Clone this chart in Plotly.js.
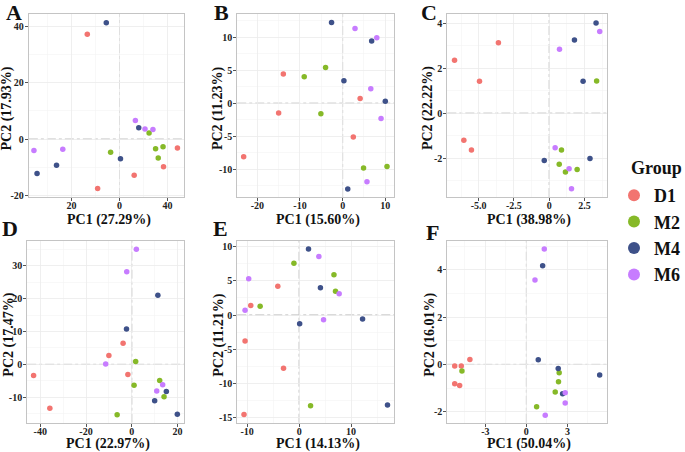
<!DOCTYPE html>
<html><head><meta charset="utf-8">
<script src="https://cdn.plot.ly/plotly-3.0.1.min.js"></script>
<style>html,body{margin:0;padding:0;background:#fff}#chart{width:685px;height:452px}</style>
</head><body><div id="chart"></div>
<script>
// ---- data ----
const groups = ["D1", "M2", "M4", "M6"];
const groupColors = ["#F27470", "#86B928", "#3E5189", "#C77CFF"];
const sampleGroup = ["D1","D1","D1","D1","D1","M2","M2","M2","M2","M2","M4","M4","M4","M4","M4","M6","M6","M6","M6","M6"];

const A_pc1 = [-13.4, 24.1, 18.3, 6.1, -9.1,   12.3, -3.7, 15.0, 18.1, 16.1,   -5.5, 8.0, 0.4, -26.2, -34.3,   6.6, 10.6, 13.9, -35.6, -23.6];
const A_pc2 = [37.3, -3.2, -9.8, -12.9, -17.6,  2.2, -4.7, -3.4, -2.7, -6.7,   41.4, 4.0, -7.0, -9.3, -12.2,   6.6, 3.6, 3.4, -4.1, -3.6];
const B_pc1 = [-13.9, 4.1, -15.0, 2.5, -23.2,  -9.0, -4.0, -5.1, 4.9, 10.4,   -2.6, 6.8, 0.3, 10.0, 1.2,   2.9, 8.0, 6.6, 9.0, 5.7];
const B_pc2 = [4.4, 0.7, -1.5, -5.1, -8.1,   4.0, 5.4, -1.6, -9.8, -9.6,   12.2, 9.4, 3.4, 0.3, -13.0,   11.3, 9.9, 2.2, -2.3, -11.9];
const C_pc1 = [-3.6, -6.71, -4.94, -6.05, -5.51,   3.36, 0.87, 0.71, 1.98, 1.15,   3.32, 1.79, 2.4, -0.35, 2.89,   3.58, 0.73, 0.42, 1.41, 1.58];
const C_pc2 = [3.12, 2.35, 1.42, -1.2, -1.64,   1.43, -1.64, -2.27, -2.5, -2.61,   4.0, 3.25, 1.42, -2.1, -2.01,   3.62, 2.84, -1.54, -2.47, -3.35];
const D_pc1 = [-3.8, -10.0, -42.9, -1.7, -35.8,   1.7, 1.0, 12.2, 14.1, -6.4,   11.4, -2.3, 15.1, 10.0, 19.9,   2.0, -2.2, -11.4, 13.5, 10.9];
const D_pc2 = [6.4, 2.7, -3.4, -3.1, -13.4,   0.9, -6.4, -4.9, -9.9, -15.4,   21.1, 10.8, -8.3, -11.1, -15.2,   35.1, 28.2, 0.1, -6.2, -8.1];
const E_pc1 = [-4.1, -9.3, -10.4, -3.0, -10.6,   -1.0, 6.7, 7.0, -7.5, 2.2,   1.8, 4.1, 12.2, 0.1, 17.0,   3.8, -9.7, 7.7, -10.4, 4.7];
const E_pc2 = [4.2, 1.4, -3.8, -7.8, -14.6,   7.6, 5.9, 3.5, 1.3, -13.3,   9.7, 4.0, -0.6, -1.3, -13.2,   8.6, 5.3, 3.1, 0.7, -0.7];
const F_pc1 = [-4.13, -5.24, -4.76, -5.24, -4.88,   -4.71, 2.40, 2.35, 2.11, 0.75,   1.19, 0.87, 2.33, 5.36, 2.65,   1.31, 0.63, 2.84, 2.84, 1.38];
const F_pc2 = [0.21, -0.07, -0.07, -0.82, -0.89,   -0.28, -0.35, -0.73, -1.17, -1.79,   4.18, 0.20, -0.17, -0.45, -1.24,   4.89, 3.57, -1.20, -1.64, -2.15];

const A_xTickVals = [-20, 0, 20];       const A_xTickText = ["20", "0", "40"];
const A_yTickVals = [-20, 0, 20, 40];   const A_yTickText = ["-20", "0", "20", "40"];
const B_xTickVals = [-20, -10, 0, 10];  const B_xTickText = ["-20", "-10", "0", "10"];
const B_yTickVals = [-10, -5, 0, 5, 10]; const B_yTickText = ["-10", "-5", "0", "5", "10"];
const C_xTickVals = [-5, -2.5, 0, 2.5]; const C_xTickText = ["-5.0", "-2.5", "0", "2.5"];
const C_yTickVals = [-2, 0, 2, 4];      const C_yTickText = ["-2", "0", "2", "4"];
const D_xTickVals = [-40, -20, 0, 20];  const D_xTickText = ["-40", "-20", "0", "20"];
const D_yTickVals = [-10, 0, 10, 20, 30]; const D_yTickText = ["-10", "0", "10", "20", "30"];
const E_xTickVals = [-10, 0, 10];       const E_xTickText = ["-10", "0", "10"];
const E_yTickVals = [-15, -10, -5, 0, 5, 10]; const E_yTickText = ["-15", "-10", "-5", "0", "5", "10"];
const F_xTickVals = [-3, 0, 3];         const F_xTickText = ["-3", "0", "3"];
const F_yTickVals = [-2, 0, 2, 4];      const F_yTickText = ["-2", "0", "2", "4"];

const xTitles = ["PC1 (27.29%)", "PC1 (15.60%)", "PC1 (38.98%)", "PC1 (22.97%)", "PC1 (14.13%)", "PC1 (50.04%)"];
const yTitles = ["PC2 (17.93%)", "PC2 (11.23%)", "PC2 (22.22%)", "PC2 (17.47%)", "PC2 (11.21%)", "PC2 (16.01%)"];
const panelLetters = ["A", "B", "C", "D", "E", "F"];

// ---- layout config (pixel boxes: left, right, top, bottom) ----
const W = 685, H = 452;
const panels = [
  {pc1: A_pc1, pc2: A_pc2, xv: A_xTickVals, xt: A_xTickText, yv: A_yTickVals, yt: A_yTickText, xr: [-37.7, 26.9], yr: [-20.6, 44.5], box: [29, 185, 14, 197], lab: [14, 13], xtY: 219.5, ytX: 8},
  {pc1: B_pc1, pc2: B_pc2, xv: B_xTickVals, xt: B_xTickText, yv: B_yTickVals, yt: B_yTickText, xr: [-24.7, 12.1], yr: [-14.2, 13.5], box: [238.3, 396, 14, 197], lab: [222, 13], xtY: 219.5, ytX: 219.5},
  {pc1: C_pc1, pc2: C_pc2, xv: C_xTickVals, xt: C_xTickText, yv: C_yTickVals, yt: C_yTickText, xr: [-7.22, 4.07], yr: [-3.72, 4.40], box: [449.3, 609.3, 14, 197], lab: [431, 13], xtY: 219.5, ytX: 430.5},
  {pc1: D_pc1, pc2: D_pc2, xv: D_xTickVals, xt: D_xTickText, yv: D_yTickVals, yt: D_yTickText, xr: [-45.7, 22.9], yr: [-17.8, 37.7], box: [27.3, 185, 240.7, 422.7], lab: [10, 229], xtY: 443.5, ytX: 9},
  {pc1: E_pc1, pc2: E_pc2, xv: E_xTickVals, xt: E_xTickText, yv: E_yTickVals, yt: E_yTickText, xr: [-11.9, 18.3], yr: [-15.8, 10.9], box: [238.3, 396, 240.7, 422.7], lab: [221, 229], xtY: 443.5, ytX: 220},
  {pc1: F_pc1, pc2: F_pc2, xv: F_xTickVals, xt: F_xTickText, yv: F_yTickVals, yt: F_yTickText, xr: [-5.78, 5.87], yr: [-2.47, 5.24], box: [449.3, 609.3, 240.7, 422.7], lab: [434, 232], xtY: 443.5, ytX: 432}
];

const FONT = "Liberation Serif, Times New Roman, serif";
function minorVals(v, r) {
  const step = v[1] - v[0];
  const out = [];
  for (let t = v[0] - step / 2; t <= r[1]; t += step) if (t >= r[0]) out.push(t);
  return out;
}

const traces = [];
const layout = {
  width: W, height: H,
  margin: {l: 0, r: 0, t: 0, b: 0},
  paper_bgcolor: "#ffffff", plot_bgcolor: "#ffffff",
  font: {family: FONT, color: "#1a1a1a"},
  showlegend: true,
  legend: {
    x: 617 / W, xanchor: "left", y: 1 - 177 / H, yanchor: "top",
    font: {family: FONT, size: 18, color: "#111", weight: "bold"},
    itemsizing: "constant", bgcolor: "rgba(0,0,0,0)", borderwidth: 0, tracegroupgap: 0
  },
  shapes: [], annotations: []
};

panels.forEach((p, i) => {
  const n = i + 1;
  const xa = "x" + (n === 1 ? "" : n), ya = "y" + (n === 1 ? "" : n);
  groups.forEach((g, gi) => {
    const xs = [], ys = [];
    p.pc1.forEach((v, k) => { if (sampleGroup[k] === g) { xs.push(v); ys.push(p.pc2[k]); } });
    traces.push({
      type: "scatter", mode: "markers", x: xs, y: ys, xaxis: xa, yaxis: ya,
      name: g, legendgroup: g, showlegend: i === 0,
      marker: {color: groupColors[gi], size: 5.5, line: {width: 0}},
      hoverinfo: "x+y+name"
    });
  });
  const axBase = {
    showline: true, mirror: true, linecolor: "#C4C4C4", linewidth: 1,
    showgrid: true, gridcolor: "#EBEBEB", gridwidth: 0.8, zeroline: false,
    ticks: "outside", ticklen: 3, tickwidth: 1, tickcolor: "#555",
    tickfont: {family: FONT, size: 10, color: "#222", weight: "bold"},
    tickmode: "array", fixedrange: true
  };
  layout["xaxis" + (n === 1 ? "" : n)] = Object.assign({}, axBase, {
    domain: [p.box[0] / W, p.box[1] / W], anchor: ya, range: p.xr,
    tickvals: p.xv, ticktext: p.xt, ticklabelstandoff: -4,
    minor: {tickmode: "array", tickvals: minorVals(p.xv, p.xr), showgrid: true, gridcolor: "#F4F4F4", gridwidth: 0.6, ticks: ""}
  });
  layout["yaxis" + (n === 1 ? "" : n)] = Object.assign({}, axBase, {
    domain: [1 - p.box[3] / H, 1 - p.box[2] / H], anchor: xa, range: p.yr,
    tickvals: p.yv, ticktext: p.yt, ticklabelstandoff: -1,
    minor: {tickmode: "array", tickvals: minorVals(p.yv, p.yr), showgrid: true, gridcolor: "#F4F4F4", gridwidth: 0.6, ticks: ""}
  });
  // dashed reference lines at 0
  layout.shapes.push({type: "line", xref: xa, yref: ya + " domain", x0: 0, x1: 0, y0: 0, y1: 1,
    line: {color: "#B5B5B5", width: 1, dash: "dashdot"}, layer: "below"});
  layout.shapes.push({type: "line", xref: xa + " domain", yref: ya, x0: 0, x1: 1, y0: 0, y1: 0,
    line: {color: "#B5B5B5", width: 1, dash: "dashdot"}, layer: "below"});
  // panel letter
  layout.annotations.push({text: panelLetters[i], xref: "paper", yref: "paper",
    x: p.lab[0] / W, y: 1 - p.lab[1] / H, xanchor: "center", yanchor: "middle", showarrow: false,
    font: {family: FONT, size: 22, color: "#111", weight: "bold"}});
  // axis titles
  layout.annotations.push({text: xTitles[i], xref: "paper", yref: "paper",
    x: ((p.box[0] + p.box[1]) / 2 + 2) / W, y: 1 - p.xtY / H, xanchor: "center", yanchor: "middle", showarrow: false,
    font: {family: FONT, size: 14, color: "#111", weight: "bold"}});
  layout.annotations.push({text: yTitles[i], xref: "paper", yref: "paper", textangle: -90,
    x: p.ytX / W, y: 1 - ((p.box[2] + p.box[3]) / 2 + 3) / H, xanchor: "center", yanchor: "middle", showarrow: false,
    font: {family: FONT, size: 14, color: "#111", weight: "bold"}});
});
layout.annotations.push({text: "Group", xref: "paper", yref: "paper", x: 632 / W, y: 1 - 168 / H,
  xanchor: "left", yanchor: "middle", showarrow: false,
  font: {family: FONT, size: 18, color: "#111", weight: "bold"}});

Plotly.newPlot("chart", traces, layout, {displayModeBar: false, staticPlot: true});
</script>
</body></html>
